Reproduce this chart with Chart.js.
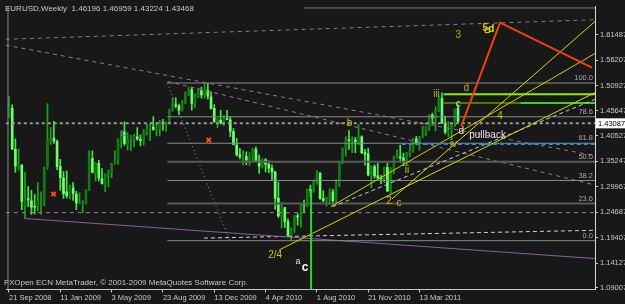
<!DOCTYPE html>
<html><head><meta charset="utf-8">
<script src="https://cdn.jsdelivr.net/npm/chart.js@4.4.0/dist/chart.umd.min.js"></script>
<style>html,body{margin:0;padding:0;background:#181818;overflow:hidden}canvas{display:block}</style>
</head><body><canvas id="c" width="625" height="304"></canvas>
<script>
// ---- weekly EURUSD bars (bar index 0 = 21 Sep 2008) ----
const opens = [
1.4480,1.4620,1.3770,1.3420,1.3440,1.2600,1.2750,1.2700,1.2590,1.2580,
1.2700,1.2700,1.3400,1.3950,1.4000,1.3930,1.3410,1.3180,1.2890,1.2820,
1.2970,1.2840,1.2650,1.2630,1.2660,1.2930,1.3580,1.3260,1.3480,1.3160,
1.3040,1.3230,1.3280,1.3490,1.3530,1.3960,1.4140,1.3880,1.3980,1.3980,
1.4030,1.3970,1.3950,1.4130,1.4220,1.4230,1.4180,1.4180,1.4320,1.4300,
1.4320,1.4570,1.4690,1.4670,1.4570,1.4750,1.4900,1.5010,1.4720,1.4870,
1.4980,1.4900,1.5000,1.4860,1.4620,1.4340,1.4370,1.4330,1.4410,1.4380,
1.4140,1.3860,1.3660,1.3610,1.3620,1.3550,1.3630,1.3770,1.3530,1.3420,
1.3550,1.3460,1.3380,1.3300,1.2760,1.2390,1.2560,1.2270,1.1950,1.2110,
1.2390,1.2370,1.2640,1.2620,1.2940,1.2910,1.3090,1.3280,1.2750,1.2710,
1.2760,1.2890,1.2700,1.3050,1.3490,1.3790,1.3960,1.3950,1.3960,1.3930,
1.4030,1.3700,1.3670,1.3240,1.3410,1.3220,1.3180,1.3160,1.3390,1.2900,
1.3380,1.3610,1.3620,1.3590,1.3520,1.3690,1.3750,1.3980,1.3910,1.4020,
1.4090,1.4230,1.4480,1.4420,1.4580,1.4820,1.4320,1.4120,1.4160,1.4310,
1.4620];
const highs = [
1.4867,1.4690,1.3990,1.3780,1.3460,1.3300,1.3000,1.2920,1.2830,1.3080,
1.2890,1.3400,1.4720,1.4220,1.4350,1.3960,1.3560,1.3310,1.3320,1.3030,
1.3080,1.2900,1.2870,1.2710,1.2930,1.3740,1.3740,1.3500,1.3540,1.3370,
1.3260,1.3340,1.3480,1.3740,1.3990,1.4150,1.4340,1.4110,1.4060,1.4080,
1.4220,1.4070,1.4180,1.4300,1.4290,1.4450,1.4330,1.4370,1.4390,1.4340,
1.4600,1.4840,1.4840,1.4710,1.4780,1.4960,1.5060,1.5060,1.4920,1.5040,
1.5060,1.5144,1.5140,1.4960,1.4700,1.4410,1.4580,1.4470,1.4580,1.4440,
1.4200,1.4000,1.3790,1.3750,1.3720,1.3700,1.3790,1.3820,1.3650,1.3580,
1.3580,1.3530,1.3450,1.3320,1.3090,1.2670,1.2560,1.2330,1.2140,1.2400,
1.2440,1.2640,1.2720,1.2950,1.3030,1.3120,1.3330,1.3290,1.2910,1.2780,
1.2950,1.2940,1.3140,1.3510,1.3800,1.4030,1.4160,1.4030,1.4020,1.4282,
1.4050,1.3770,1.3790,1.3430,1.3450,1.3480,1.3230,1.3400,1.3480,1.3390,
1.3630,1.3760,1.3860,1.3690,1.3710,1.3860,1.4000,1.4040,1.4040,1.4250,
1.4250,1.4490,1.4520,1.4650,1.4880,1.4940,1.4460,1.4350,1.4330,1.4610,
1.4696];
const lows = [
1.4430,1.3765,1.3290,1.3340,1.2520,1.2330,1.2580,1.2420,1.2430,1.2500,
1.2420,1.2600,1.3360,1.3870,1.3890,1.3350,1.2920,1.2750,1.2760,1.2740,
1.2710,1.2520,1.2640,1.2457,1.2640,1.2920,1.3280,1.3110,1.3110,1.3050,
1.2890,1.2990,1.3180,1.3460,1.3460,1.3800,1.3850,1.3750,1.3740,1.3820,
1.3960,1.3840,1.3860,1.4070,1.3950,1.4160,1.4050,1.4050,1.4160,1.4140,
1.4300,1.4560,1.4630,1.4490,1.4560,1.4710,1.4880,1.4580,1.4640,1.4840,
1.4830,1.4830,1.4810,1.4600,1.4330,1.4220,1.4290,1.4260,1.4380,1.4030,
1.3860,1.3630,1.3570,1.3440,1.3450,1.3440,1.3530,1.3520,1.3270,1.3380,
1.3300,1.3280,1.3120,1.2530,1.2360,1.2140,1.2150,1.1960,1.1876,1.2050,
1.2200,1.2150,1.2470,1.2580,1.2790,1.2880,1.3040,1.2730,1.2680,1.2590,
1.2630,1.2630,1.2650,1.3000,1.3470,1.3630,1.3770,1.3700,1.3700,1.3860,
1.3680,1.3440,1.3220,1.2970,1.3170,1.3150,1.3060,1.3080,1.2890,1.2860,
1.3260,1.3580,1.3520,1.3430,1.3430,1.3620,1.3710,1.3860,1.3750,1.4010,
1.4050,1.4160,1.4320,1.4150,1.4550,1.4300,1.4090,1.4030,1.3968,1.4240,
1.4322];
const closes = [
1.4630,1.3780,1.3420,1.3440,1.2690,1.2740,1.2720,1.2570,1.2570,1.2700,
1.2710,1.3350,1.3980,1.3980,1.3940,1.3410,1.3180,1.2850,1.2810,1.2950,
1.2850,1.2660,1.2670,1.2650,1.2930,1.3590,1.3290,1.3480,1.3170,1.3060,
1.3260,1.3270,1.3460,1.3530,1.3980,1.4150,1.3890,1.3980,1.4000,1.4040,
1.3980,1.3950,1.4140,1.4210,1.4230,1.4180,1.4190,1.4310,1.4300,1.4320,
1.4570,1.4690,1.4670,1.4580,1.4750,1.4900,1.5010,1.4720,1.4870,1.4980,
1.4900,1.5000,1.4870,1.4620,1.4350,1.4370,1.4320,1.4410,1.4390,1.4140,
1.3870,1.3660,1.3610,1.3620,1.3550,1.3630,1.3770,1.3540,1.3420,1.3550,
1.3460,1.3380,1.3300,1.2760,1.2390,1.2560,1.2270,1.1970,1.2110,1.2390,
1.2370,1.2640,1.2620,1.2940,1.2910,1.3090,1.3280,1.2750,1.2710,1.2760,
1.2890,1.2700,1.3050,1.3490,1.3790,1.3960,1.3950,1.3960,1.3930,1.4030,
1.3700,1.3670,1.3240,1.3410,1.3220,1.3180,1.3160,1.3390,1.2910,1.3380,
1.3610,1.3620,1.3590,1.3520,1.3690,1.3750,1.3980,1.3910,1.4020,1.4090,
1.4240,1.4480,1.4420,1.4580,1.4820,1.4310,1.4130,1.4160,1.4310,1.4600,
1.4347];

// ---- axes ----
const xTickBars = [0,16,32,48,64,80,96,112,128];
const xTickLabels = ['21 Sep 2008','11 Jan 2009','3 May 2009','23 Aug 2009','13 Dec 2009','4 Apr 2010','1 Aug 2010','21 Nov 2010','13 Mar 2011'];
const yTickValues = [1.09007,1.14127,1.19407,1.24687,1.29967,1.35247,1.40527,1.45647,1.50927,1.56207,1.61487];
const xRange = [-0.93, 182.72];
const yRange = [1.08642, 1.67410];

// ---- drawn objects (bar index, price) ----
const purpleTopLine   = [[-1, 1.6051],[183, 1.6457]];
const purpleDownLine1 = [[-1, 1.5929],[183, 1.3635]];
const purpleDownLine2 = [[49.4, 1.5178],[183, 1.3026]];
const purpleLevel     = 1.2457;
const purpleSolidLine = [[4.9, 1.2336],[183, 1.1504]];
const whiteLowLine    = [[60.8, 1.1930],[183, 1.2092]];
const markedPrice     = 1.43087;
const fibStartBar = 49.4, fibEndBar = 68.8;
const fibLow = 1.1876, fibHigh = 1.5144;
const fibLevels = [0, 23.6, 38.2, 50.0, 61.8, 78.6, 100.0];
const greenVertical   = [[94.2, 1.2945],[94.2, 1.08]];
const yellowLine1 = [[84.3, 1.1686],[183, 1.4955]];
const yellowLine2 = [[100.3, 1.2580],[183, 1.5767]];
const yellowLine3 = [[119.4, 1.2742],[183, 1.6436]];
const greenLevel1 = [[135.5, 1.4914],[183, 1.4914]];
const greenLevel2a = [[135.5, 1.4731],[159.4, 1.4731]];
const greenLevel2b = [[159.4, 1.4731],[183, 1.4731]];
const redPath = [[141.0, 1.4244],[153.1, 1.6396],[181.8, 1.5462]];
const blueLevel = [[122.5, 1.3879],[183, 1.3879]];
const whiteRiseLine = [[100.9, 1.2580],[183, 1.4813]];
const leftEdge = [[-0.31, 1.0864],[-0.31, 1.6741]];
const topLine = [[92, 1.6700],[183, 1.6700]];
const redCrosses = [[13.9, 1.2843],[62.3, 1.3960]];
const tealBox = [[35.8, 1.4102]];
const yellowBox = [[149.1, 1.6234]];

const waveLabels = [
  {t:'3', x:140.1, y:1.6132, c:'#b8b000', f:'10px'},
  {t:'5', x:148.5, y:1.6274, c:'#d8d000', f:'bold 10px'},
  {t:'d', x:150.4, y:1.6254, c:'#e8e000', f:'bold 10px'},
  {t:'d', x:142.6, y:1.5036, c:'#b8b000', f:'10px'},
  {t:'iii', x:133.3, y:1.4914, c:'#b8b000', f:'10px'},
  {t:'c', x:140.1, y:1.4711, c:'#d0d0d0', f:'10px'},
  {t:'d', x:141.0, y:1.4143, c:'#e0e0e0', f:'10px'},
  {t:'pullback', x:143.5, y:1.4061, c:'#e0e0e0', f:'10px', a:'left'},
  {t:'4', x:153.1, y:1.4447, c:'#c8c000', f:'10px'},
  {t:'iv', x:138.6, y:1.3879, c:'#c8c000', f:'10px'},
  {t:'ii', x:124.1, y:1.3331, c:'#c8c000', f:'10px'},
  {t:'b', x:106.2, y:1.4305, c:'#c8c000', f:'10px'},
  {t:'2', x:118.5, y:1.2701, c:'#c8c000', f:'10px'},
  {t:'c', x:121.6, y:1.2661, c:'#c8c000', f:'10px'},
  {t:'2/4', x:83.0, y:1.1565, c:'#c8c000', f:'10px'},
  {t:'a', x:90.1, y:1.1443, c:'#e0e0e0', f:'9px'},
  {t:'c', x:92.3, y:1.1321, c:'#ffffff', f:'bold 12px'}
];
const titleText = 'EURUSD,Weekly  1.46196 1.46959 1.43224 1.43468';
const footerText = 'FXOpen ECN MetaTrader, \u00a9 2001-2009 MetaQuotes Software Corp.';

// ---- build datasets ----
const idx = opens.map((_, i) => i);
const bull = idx.map(i => closes[i] >= opens[i]);
const wickData = idx.map(i => ({x: i, y: [lows[i], highs[i]]}));
const bodyData = idx.map(i => ({x: i, y: [Math.min(opens[i], closes[i]), Math.max(opens[i], closes[i])]}));

function seg(pts, color, dash, width, order) {
  return {type: 'line', data: pts.map(p => ({x: p[0], y: p[1]})), borderColor: color,
    borderWidth: width || 1, borderDash: dash || [], pointRadius: 0, fill: false,
    tension: 0, order: order == null ? 2 : order};
}
function pts(list, style, color, radius, bw, order) {
  return {type: 'line', showLine: false, data: list.map(p => ({x: p[0], y: p[1]})),
    pointStyle: style, pointRadius: radius, borderColor: color, backgroundColor: 'rgba(0,0,0,0)',
    pointBorderWidth: bw, order: order};
}
const fibPrice = l => fibLow + (fibHigh - fibLow) * l / 100;
const full = v => [[-1, v], [183, v]];

const datasets = [];
datasets.push({type: 'bar', data: bodyData, barThickness: 2, grouped: false, minBarLength: 1,
  backgroundColor: idx.map(i => bull[i] ? '#137813' : '#6cff6c'), borderWidth: 0, order: 20});
datasets.push({type: 'bar', data: wickData, barThickness: 1, grouped: false,
  backgroundColor: idx.map(i => bull[i] ? '#18a818' : '#3cee3c'), borderWidth: 0, order: 21});

datasets.push(seg(leftEdge, '#8a8a8a', [], 1, 5));
datasets.push(seg(topLine, '#7a7a7a', [], 1, 5));
datasets.push(seg(purpleTopLine, '#9a6e9e', [4, 4], 1, 5));
datasets.push(seg(purpleDownLine1, '#9a6e9e', [4, 4], 1, 5));
datasets.push(seg(purpleDownLine2, '#9a6e9e', [4, 4], 1, 5));
datasets.push(seg(full(purpleLevel), '#a878b0', [4, 4], 1, 5));
datasets.push(seg(purpleSolidLine, '#8c5e9c', [], 1, 5));
datasets.push(seg(whiteLowLine, '#d0d0d0', [4, 3], 1, 5));
datasets.push(seg(full(markedPrice), '#9a9a9a', [3, 3], 2, 5));
fibLevels.forEach(l => {
  const dark = (l === 50.0 || l === 23.6);
  datasets.push(seg([[fibStartBar, fibPrice(l)], [183, fibPrice(l)]], dark ? '#5a5a5a' : '#8c8c8c', [], dark ? 2 : 1, 4));
});
datasets.push(seg([[fibStartBar, fibHigh], [fibEndBar, fibLow]], '#9a9a9a', [1, 3], 1, 4));
datasets.push(seg(blueLevel, '#2e8ed0', [4, 3], 2, 3));
datasets.push(seg(whiteRiseLine, '#c8c8c8', [4, 3], 1, 3));
datasets.push(seg(greenVertical, '#22dd22', [], 2, 3));
datasets.push(seg(yellowLine1, '#d8d800', [], 1, 3));
datasets.push(seg(yellowLine2, '#d0d000', [], 1, 3));
datasets.push(seg(yellowLine3, '#d8d800', [], 1, 3));
datasets.push(seg(greenLevel1, '#88ee00', [], 2, 3));
datasets.push(seg(greenLevel2a, '#4c7a00', [], 2, 3));
datasets.push(seg(greenLevel2b, '#44cc22', [], 2, 3));
datasets.push(seg(redPath, '#f04010', [], 2, 1));
datasets.push(pts(redCrosses, 'crossRot', '#ff4a10', 3, 2, 1));
datasets.push(pts(tealBox, 'rect', '#3a9a8a', 3, 1, 1));
datasets.push(pts(yellowBox, 'rect', '#e0d800', 3, 1, 1));

const bgPlugin = {id: 'bg', beforeDraw(chart) {
  const c = chart.ctx; c.save(); c.fillStyle = '#181818'; c.fillRect(0, 0, chart.width, chart.height); c.restore();
}};
const textPlugin = {id: 'texts', afterDraw(chart) {
  const c = chart.ctx, xs = chart.scales.x, ys = chart.scales.y;
  c.save();
  c.textBaseline = 'middle';
  // fib labels
  c.font = '7.5px "Liberation Sans"'; c.fillStyle = '#a8a8a8'; c.textAlign = 'right';
  fibLevels.forEach(l => c.fillText(l.toFixed(1), xs.right - 2, ys.getPixelForValue(fibPrice(l)) - 5));
  // wave labels
  waveLabels.forEach(w => {
    c.font = w.f + ' "Liberation Sans"'; c.fillStyle = w.c; c.textAlign = w.a || 'center';
    c.fillText(w.t, xs.getPixelForValue(w.x), ys.getPixelForValue(w.y));
  });
  // title and footer
  c.font = '8px "Liberation Sans"'; c.fillStyle = '#c8c8c8'; c.textAlign = 'left';
  c.fillText(titleText, 5, 9);
  c.fillText(footerText, 4, 283);
  // marked price box
  const py = ys.getPixelForValue(markedPrice);
  c.fillStyle = '#ffffff'; c.fillRect(xs.right + 1, py - 5, 30, 10);
  c.fillStyle = '#000000'; c.font = '7.5px "Liberation Sans"';
  c.fillText(markedPrice.toFixed(5), xs.right + 3, py + 0.5);
  c.restore();
}};

Chart.defaults.font.family = '"Liberation Sans", Arial, sans-serif';
new Chart(document.getElementById('c'), {
  type: 'bar',
  data: {datasets},
  options: {
    responsive: false, animation: false, devicePixelRatio: 1,
    layout: {padding: 0},
    plugins: {legend: {display: false}, tooltip: {enabled: false}},
    scales: {
      x: {type: 'linear', position: 'bottom', min: xRange[0], max: xRange[1], offset: false,
        afterBuildTicks: s => { s.ticks = xTickBars.map(v => ({value: v})); },
        afterFit: s => { s.height = 14.5; s.paddingLeft = 0; s.paddingRight = 0; },
        ticks: {autoSkip: false, maxRotation: 0, align: 'start', padding: 1, color: '#c8c8c8',
          font: {size: 7.5}, callback: v => xTickLabels[xTickBars.indexOf(v)] || ''},
        grid: {drawOnChartArea: false, drawTicks: true, tickLength: 3, color: '#c8c8c8', offset: false},
        border: {display: true, color: '#c8c8c8'}},
      y: {type: 'linear', position: 'right', min: yRange[0], max: yRange[1],
        afterBuildTicks: s => { s.ticks = yTickValues.map(v => ({value: v})); },
        afterFit: s => { s.width = 30; s.paddingTop = 0; s.paddingBottom = 0; },
        ticks: {autoSkip: false, padding: 2, color: '#c8c8c8', font: {size: 7.5},
          callback: v => Number(v).toFixed(5)},
        grid: {drawOnChartArea: false, drawTicks: true, tickLength: 3, color: '#c8c8c8'},
        border: {display: true, color: '#d8d8d8'}}
    }
  },
  plugins: [bgPlugin, textPlugin]
});
</script></body></html>
